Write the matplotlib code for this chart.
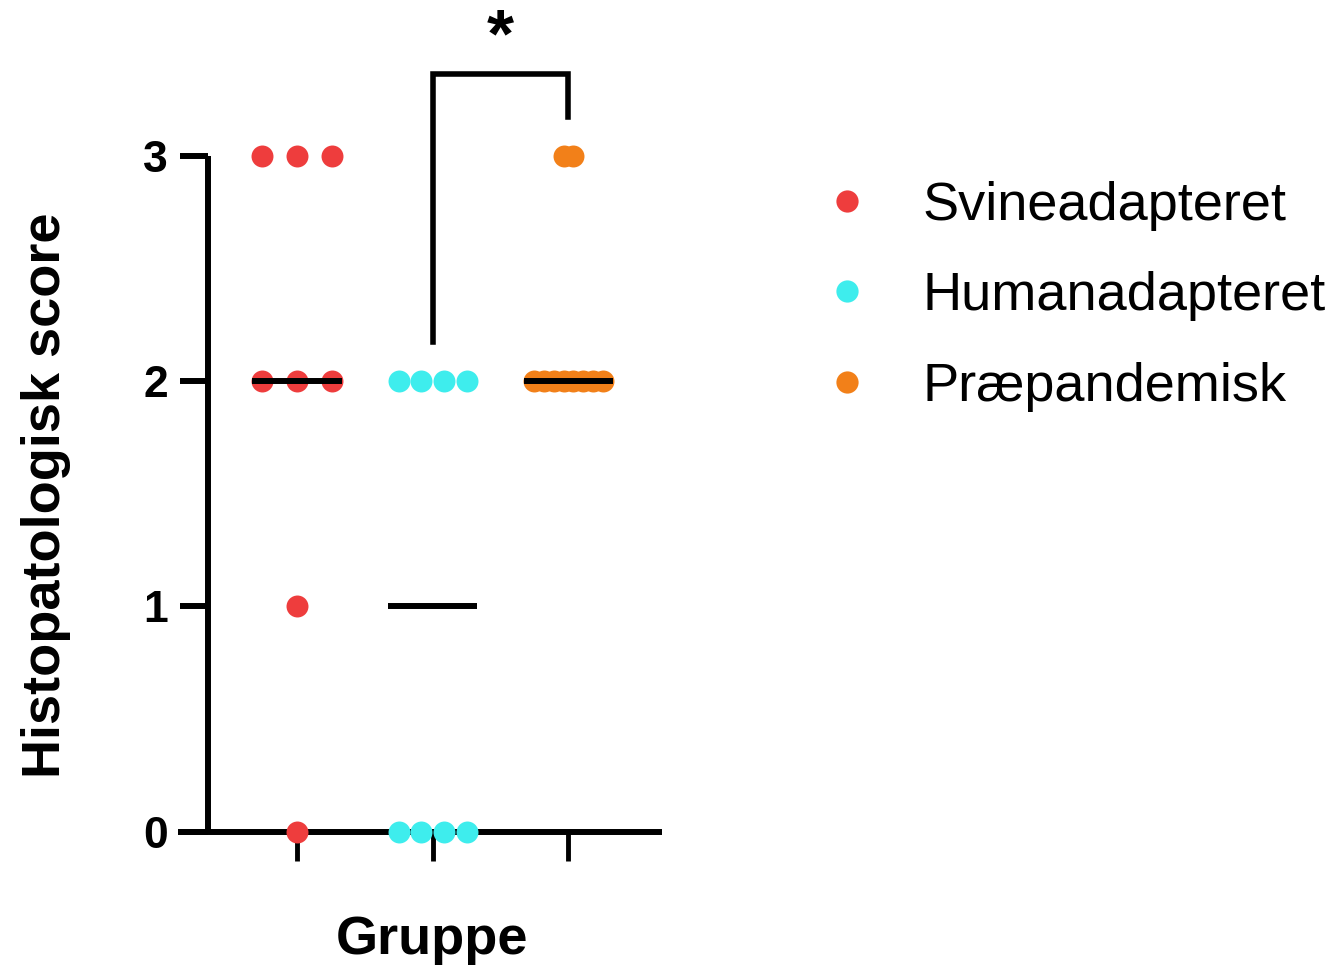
import matplotlib
matplotlib.use("Agg")
import matplotlib.pyplot as plt
from matplotlib.lines import Line2D
import numpy as np

plt.rcParams['font.family'] = ['Liberation Sans', 'DejaVu Sans']

# data: histopathological score per animal
groups = ["Svineadapteret", "Humanadapteret", "Præpandemisk"]
svine = [3, 3, 3, 2, 2, 2, 1, 0]
human = [2, 2, 2, 2, 0, 0, 0, 0]
praep = [3, 3, 2, 2, 2, 2, 2, 2, 2, 2]
medians = [2, 1, 2]
colors = ["#EE3D3D", "#3EEDED", "#F28019"]
# horizontal spacing of stacked dots (x units), per group
spread = [0.258, 0.167, 0.072]

fig = plt.figure(figsize=(13.39, 9.71), dpi=100)
ax = fig.add_axes([0.1329, 0.1432, 0.3615, 0.8568])

for i, vals in enumerate([svine, human, praep]):
    xc = i + 1
    vals = np.array(vals)
    for v in np.unique(vals):
        n = np.sum(vals == v)
        offs = (np.arange(n) - (n - 1) / 2) * spread[i]
        ax.scatter(xc + offs, [v] * n, s=250, color=colors[i], zorder=3,
                   clip_on=False, linewidths=0)
    ax.plot([xc - 0.33, xc + 0.33], [medians[i]] * 2, color="black", lw=4.3,
            zorder=4, solid_capstyle="butt")

ax.set_xlim(0.122, 3.69)
ax.set_ylim(0, 3.69)
ax.spines["top"].set_visible(False)
ax.spines["right"].set_visible(False)
ax.spines["left"].set_position(("data", 0.343))
ax.spines["left"].set_bounds(0, 3)
for s in ["left", "bottom"]:
    ax.spines[s].set_linewidth(4.3)
    ax.spines[s].set_capstyle("butt")

ax.set_yticks([0, 1, 2, 3])
ax.set_yticklabels(["0", "1", "2", "3"], fontsize=32, fontweight="bold")
ax.set_xticks([1, 2, 3])
ax.set_xticklabels([])
ax.tick_params(axis="y", length=20, width=4.3, pad=9)
ax.tick_params(axis="x", length=21, width=3.5)

fig.text(432 / 1339, 1 - 940 / 971, "Gruppe", fontsize=39, fontweight="bold",
         ha="center", va="center")
fig.text(0.034, 0.49, "Histopatologisk score", rotation=90, fontsize=39,
         fontweight="bold", ha="center", va="center")

# significance bracket
ax.plot([2, 2, 3, 3], [2.175, 3.36, 3.36, 3.17], color="black", lw=4,
        clip_on=False, solid_joinstyle="miter")
ax.text(2.5, 3.52, "*", fontsize=50, fontweight="bold", ha="center",
        va="center", clip_on=False)

handles = [Line2D([], [], marker="o", ls="", color=c, markersize=16,
                  markeredgewidth=0) for c in colors]
fig.legend(handles, groups, loc="upper left", bbox_to_anchor=(0.612, 0.814),
           frameon=False, fontsize=39, handlelength=1.0, handletextpad=0.9,
           labelspacing=0.75, borderpad=0, borderaxespad=0)

fig.savefig("out.png", dpi=100)
